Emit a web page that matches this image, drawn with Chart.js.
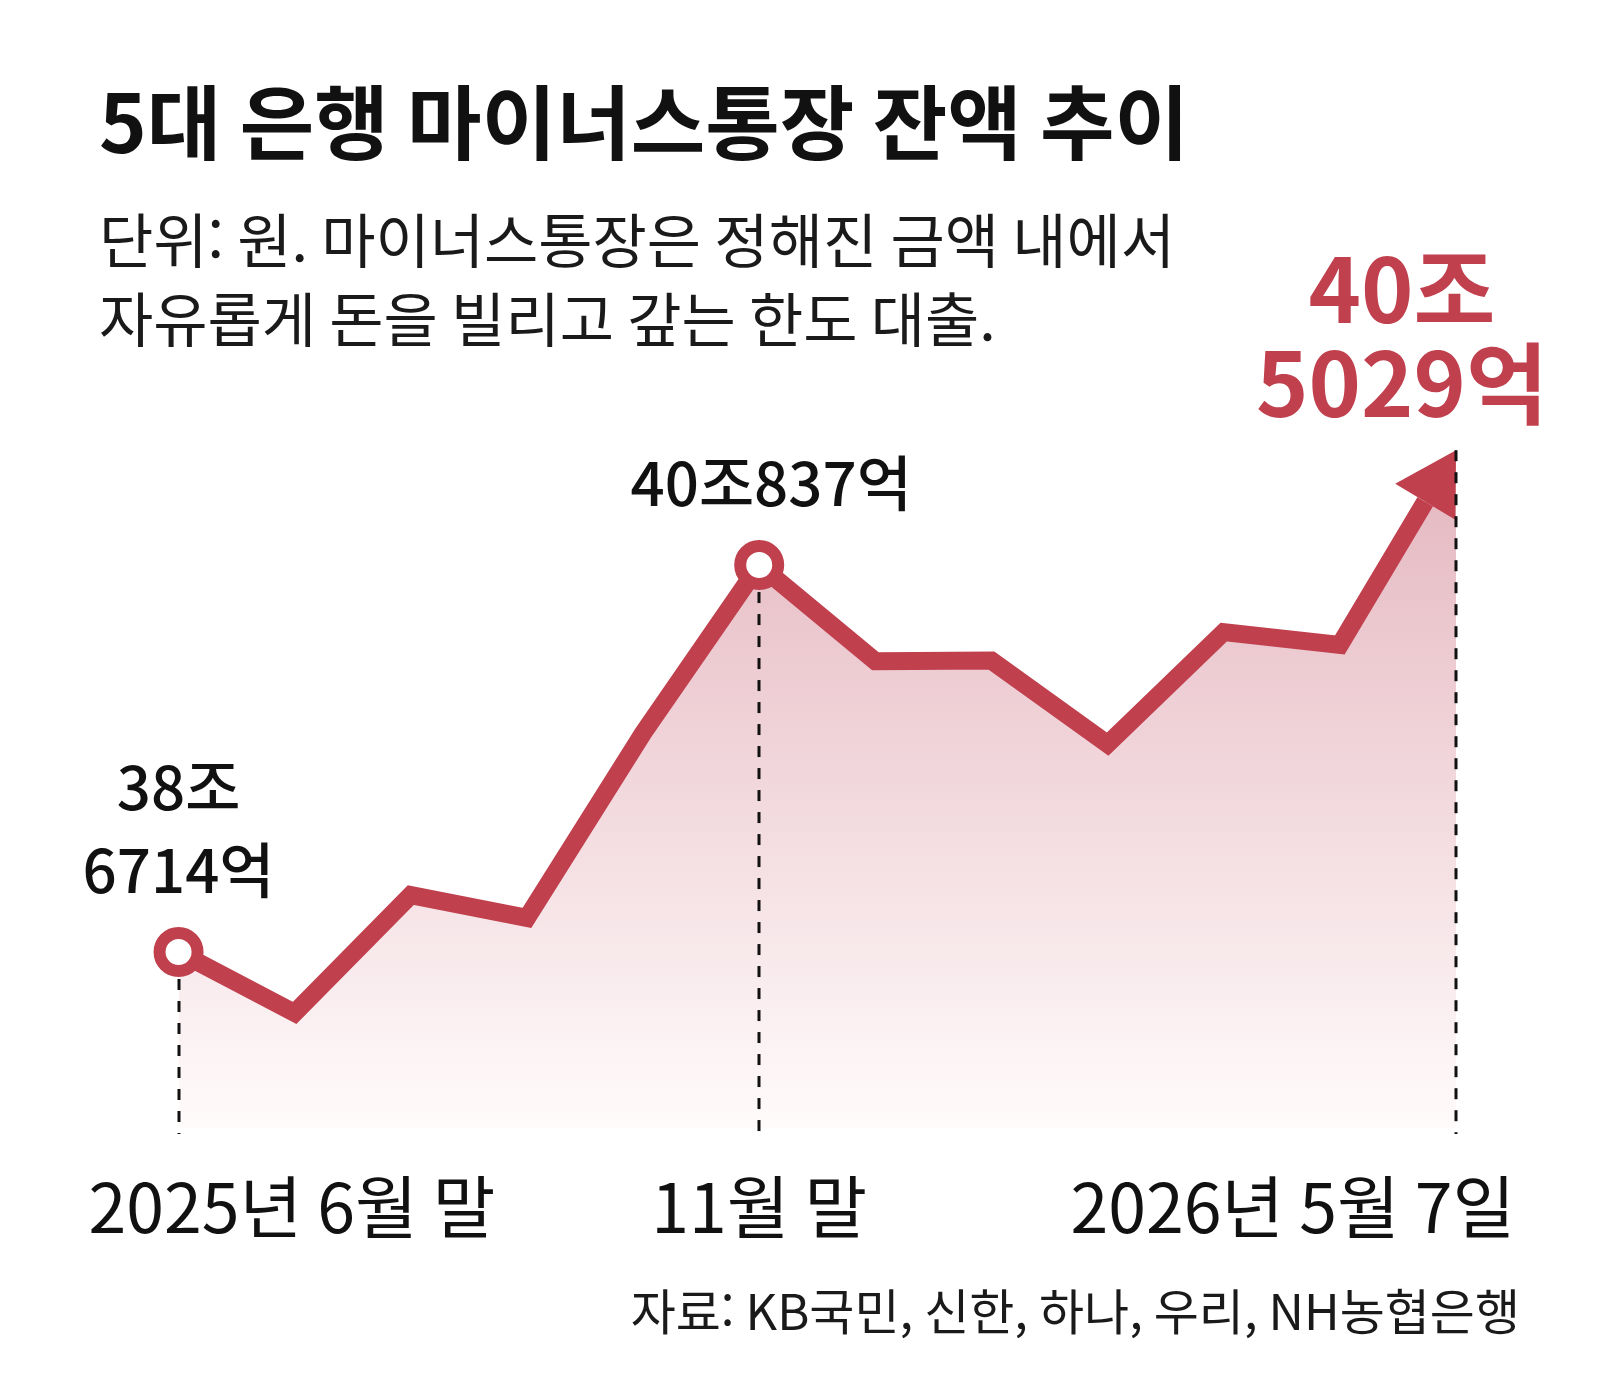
<!DOCTYPE html>
<html lang="ko">
<head>
<meta charset="utf-8">
<title>5대 은행 마이너스통장 잔액 추이</title>
<script src="https://cdn.jsdelivr.net/npm/chart.js@4.4.1/dist/chart.umd.min.js"></script>
<style>
html, body { margin: 0; padding: 0; background: #fff; overflow: hidden; }
#wrap { width: 1600px; height: 1400px; position: relative; }
</style>
</head>
<body>
<div id="wrap"><canvas id="canvas"></canvas></div>
<script>
// 5대 은행 마이너스통장 잔액 (단위: 조원)
var months = ['2025년 6월 말', '7월 말', '8월 말', '9월 말', '10월 말', '11월 말',
    '12월 말', '2026년 1월 말', '2월 말', '3월 말', '4월 말', '2026년 5월 7일'];
var balances = [38.6714, 38.449, 38.879, 38.796, 39.47, 40.0837,
    39.733, 39.735, 39.43, 39.839, 39.792, 40.5029];

var circleAt = [0, 5];
var axisLabelAt = [0, 5, 11];
var axisLabels = ['2025년 6월 말', '11월 말', '2026년 5월 7일'];
var valueLabelAt = [0, 5, 11];
var valueLabels = [['38조', '6714억'], ['40조837억'], ['40조', '5029억']];

var titleText = '5대 은행 마이너스통장 잔액 추이';
var subtitleText = ['단위: 원. 마이너스통장은 정해진 금액 내에서', '자유롭게 돈을 빌리고 갚는 한도 대출.'];
var sourceText = '자료: KB국민, 신한, 하나, 우리, NH농협은행';

var red = '#c1404e';
var family = '"Noto Sans CJK KR", "Noto Sans", sans-serif';
Chart.defaults.font.family = family;

function arrowGeom(chart) {
    var pts = chart.getDatasetMeta(0).data;
    var p = pts[pts.length - 1];
    var q = pts[pts.length - 2];
    var dx = p.x - q.x, dy = p.y - q.y;
    var len = Math.sqrt(dx * dx + dy * dy);
    var ux = dx / len, uy = dy / len;
    return {tx: p.x, ty: p.y, bx: p.x - ux * 60, by: p.y - uy * 60, ux: ux, uy: uy, nx: -uy, ny: ux};
}

// arrow head at the last point, line is clipped behind it
var arrowPlugin = {
    id: 'arrowHead',
    beforeDatasetDraw: function(chart) {
        var a = arrowGeom(chart);
        var ctx = chart.ctx;
        var far = 3000;
        ctx.save();
        ctx.beginPath();
        ctx.rect(0, 0, chart.width, chart.height);
        ctx.moveTo(a.bx + a.nx * far, a.by + a.ny * far);
        ctx.lineTo(a.bx + a.nx * far + a.ux * far, a.by + a.ny * far + a.uy * far);
        ctx.lineTo(a.bx - a.nx * far + a.ux * far, a.by - a.ny * far + a.uy * far);
        ctx.lineTo(a.bx - a.nx * far, a.by - a.ny * far);
        ctx.closePath();
        ctx.clip('evenodd');
    },
    afterDatasetDraw: function(chart) {
        var ctx = chart.ctx;
        ctx.restore();
        var a = arrowGeom(chart);
        ctx.save();
        ctx.fillStyle = red;
        ctx.beginPath();
        ctx.moveTo(a.tx, a.ty);
        ctx.lineTo(a.bx + a.nx * 35, a.by + a.ny * 35);
        ctx.lineTo(a.bx - a.nx * 35, a.by - a.ny * 35);
        ctx.closePath();
        ctx.fill();
        ctx.restore();
    }
};

var textPlugin = {
    id: 'chartTexts',
    afterDatasetsDraw: function(chart) {
        var ctx = chart.ctx;
        var pts = chart.getDatasetMeta(0).data;
        var bottom = chart.chartArea.bottom + 6;
        ctx.save();
        ctx.strokeStyle = '#111';
        ctx.lineWidth = 3;
        ctx.setLineDash([11, 11]);
        axisLabelAt.forEach(function(i) {
            var p = pts[i];
            var start = circleAt.indexOf(i) >= 0 ? p.y + 27 : p.y;
            ctx.beginPath();
            ctx.moveTo(Math.round(p.x), start);
            ctx.lineTo(Math.round(p.x), bottom);
            ctx.stroke();
        });
        ctx.restore();
    },
    afterDraw: function(chart) {
        var ctx = chart.ctx;
        var pts = chart.getDatasetMeta(0).data;
        ctx.save();
        ctx.textBaseline = 'middle';

        // value labels
        ctx.textAlign = 'center';
        ctx.fillStyle = '#111';
        ctx.font = '500 60px ' + family;
        var p0 = pts[valueLabelAt[0]];
        ctx.fillText(valueLabels[0][0], p0.x, p0.y - 165);
        ctx.fillText(valueLabels[0][1], p0.x, p0.y - 82);
        var p1 = pts[valueLabelAt[1]];
        ctx.fillText(valueLabels[1][0], p1.x + 12, p1.y - 82);
        var p2 = pts[valueLabelAt[2]];
        ctx.fillStyle = red;
        ctx.font = 'bold 89px ' + family;
        ctx.fillText(valueLabels[2][0], p2.x - 54, p2.y - 161);
        ctx.fillText(valueLabels[2][1], p2.x - 54, p2.y - 67);

        // x labels
        ctx.fillStyle = '#111';
        ctx.font = '68px ' + family;
        var aligns = ['left', 'center', 'right'];
        var shifts = [-90, 0, 59];
        axisLabelAt.forEach(function(i, k) {
            ctx.textAlign = aligns[k];
            ctx.fillText(axisLabels[k], pts[i].x + shifts[k], 1207);
        });

        // source
        ctx.textAlign = 'right';
        ctx.fillStyle = '#1a1a1a';
        ctx.font = '49px ' + family;
        ctx.fillText(sourceText, 1520, 1311);
        ctx.restore();
    }
};

var points = balances.map(function(v, i) { return {x: i, y: v}; });

var ctx = document.getElementById('canvas').getContext('2d');
var myChart = new Chart(ctx, {
    type: 'line',
    data: {
        labels: months,
        datasets: [{
            data: points,
            borderColor: red,
            borderWidth: 18,
            borderJoinStyle: 'miter',
            borderCapStyle: 'butt',
            tension: 0,
            fill: 'start',
            backgroundColor: function(c) {
                var area = c.chart.chartArea;
                if (!area) return 'rgba(0,0,0,0)';
                var g = c.chart.ctx.createLinearGradient(0, area.top, 0, area.bottom);
                g.addColorStop(0, '#e2b0ba');
                g.addColorStop(1, '#fffbfb');
                return g;
            },
            pointRadius: function(c) { return circleAt.indexOf(c.dataIndex) >= 0 ? 19 : 0; },
            pointHoverRadius: function(c) { return circleAt.indexOf(c.dataIndex) >= 0 ? 19 : 0; },
            pointBorderWidth: 12,
            pointHoverBorderWidth: 12,
            pointBackgroundColor: '#fff',
            pointBorderColor: red
        }]
    },
    options: {
        responsive: true,
        maintainAspectRatio: false,
        animation: false,
        events: [],
        layout: {
            autoPadding: false,
            padding: {left: 99, right: 0, top: 0, bottom: 272}
        },
        scales: {
            x: {type: 'linear', min: -0.685, max: 12.24, display: false},
            y: {min: 38.029, max: 40.704, display: false}
        },
        plugins: {
            legend: {display: false},
            tooltip: {enabled: false},
            title: {
                display: true,
                text: titleText,
                align: 'start',
                color: '#111',
                font: {size: 81, weight: 'bold', lineHeight: 1.1},
                padding: {top: 78, bottom: 34}
            },
            subtitle: {
                display: true,
                text: subtitleText,
                align: 'start',
                color: '#1a1a1a',
                font: {size: 59, weight: 'normal', lineHeight: 1.339},
                padding: {top: 0, bottom: 36}
            }
        }
    },
    plugins: [arrowPlugin, textPlugin]
});
</script>
</body>
</html>
